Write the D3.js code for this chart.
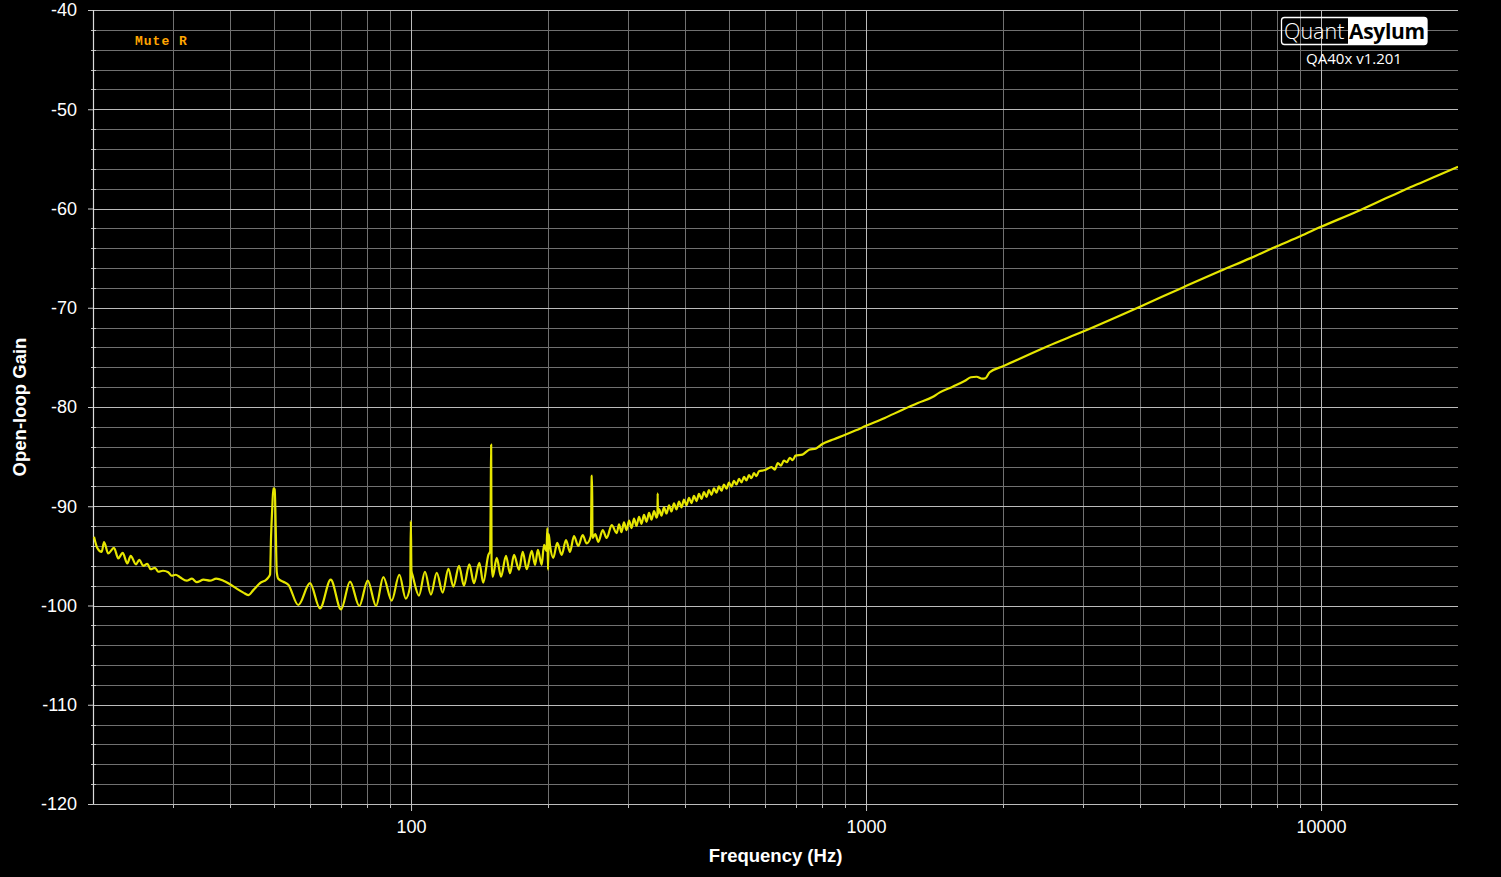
<!DOCTYPE html>
<html>
<head>
<meta charset="utf-8">
<script src="https://cdn.jsdelivr.net/npm/d3@7"></script>
<style>
  html, body { margin: 0; padding: 0; background: #000; }
  svg { display: block; }
</style>
</head>
<body>
<svg id="chart" width="1501" height="877"></svg>
<script>
// ---------------- DATA ----------------
const freqHz = [
  20.1, 20.44, 20.9, 21.15, 21.6, 22.24, 22.73, 23.24, 23.79, 24.2,
  24.86, 25.28, 25.79, 26.32, 26.78, 27.37, 27.83, 28.5, 29.27, 29.78,
  30.4, 31.06, 32.13, 33.0, 33.8, 35.0, 36.15, 37.3, 38.68, 39.67,
  41.39, 42.8, 43.89, 45.02, 46.57, 48.18, 48.99, 49.24, 49.56, 49.81,
  50.17, 50.42, 50.68, 51.09, 52.39, 53.74, 56.52, 59.97, 63.08, 66.6,
  70.17, 73.44, 76.97, 80.32, 83.77, 86.92, 90.69, 94.25, 97.35, 99.6,
  99.9, 100.2, 100.85, 104.1, 107.3, 110.6, 113.9, 117.4, 120.8, 123.9,
  127.5, 130.7, 134.3, 137.5, 141.3, 144.1, 147.9, 149.3, 149.7, 150.0,
  150.3, 151.2, 154.3, 157.7, 161.7, 165.0, 168.4, 172.7, 176.0, 179.6,
  184.2, 187.3, 190.0, 193.7, 196.0, 198.5, 199.3, 200.0, 200.7, 202.0,
  205.4, 209.6, 214.3, 219.1, 223.5, 228.1, 233.1, 238.4, 243.2, 248.5,
  249.5, 250.0, 250.5, 254.0, 258.0, 263.8, 269.2, 276.1, 283.2,
  286.5, 290.1, 293.8, 297.6, 301.4, 305.2, 309.1, 313.0, 317.0, 321.0,
  325.1, 329.3, 333.5, 337.7, 342.0, 346.3, 348.0, 348.4, 348.8, 350.8,
  355.2, 359.7, 364.3, 369.0, 373.6, 378.4, 383.2, 388.1, 393.0, 398.0,
  403.1, 408.2, 413.4, 418.7, 424.0, 429.4, 434.9, 440.4, 446.0, 451.7,
  457.4, 463.3, 469.1, 475.1, 481.2, 487.3, 493.5, 499.8, 506.1, 512.6,
  519.1, 525.7, 532.4, 539.2, 546.0, 553.0, 560.0, 567.1, 574.3, 581.7,
  600, 620, 630, 640, 650, 660, 670, 680, 690, 700,
  725, 750, 775, 800, 850, 900, 950, 1000, 1100, 1200,
  1300, 1400, 1450, 1550, 1650, 1700, 1750, 1800, 1830, 1870,
  2000, 2500, 3000, 4000, 5000, 6000, 7000, 8000, 9000, 10000,
  12000, 14000, 16000, 18000, 20000
];
const gainDb = [
  -93.07, -94.2, -94.6, -93.6, -94.75, -94.2, -95.25, -94.7, -95.75, -95.0,
  -95.85, -95.4, -96.0, -95.8, -96.35, -96.2, -96.6, -96.5, -96.65, -97.0,
  -96.9, -97.15, -97.5, -97.3, -97.65, -97.4, -97.5, -97.3, -97.5, -97.75,
  -98.3, -98.7, -98.95, -98.45, -97.75, -97.35, -96.9, -93.1, -90.05, -88.2,
  -88.3, -92.1, -96.6, -97.3, -97.6, -97.9, -99.95, -97.75, -100.3, -97.4,
  -100.4, -97.6, -100.05, -97.5, -100.05, -97.15, -99.5, -96.9, -99.3, -98.0,
  -91.5, -96.5, -97.0, -99.0, -96.6, -98.9, -96.7, -98.7, -96.3, -98.1,
  -96.0, -98.0, -95.85, -97.75, -95.7, -97.7, -94.9, -94.5, -88.5, -83.8,
  -95.5, -97.1, -95.2, -97.1, -95.0, -96.75, -94.9, -96.4, -94.6, -96.35,
  -94.5, -95.9, -94.4, -95.9, -93.9, -94.5, -92.2, -96.4, -92.8, -93.9,
  -95.2, -93.7, -94.9, -93.4, -94.6, -93.0, -94.0, -92.9, -93.75, -93.0,
  -87.0, -86.9, -93.2, -92.8, -93.6, -92.4, -93.2, -91.9, -92.7,
  -91.82, -92.62, -91.63, -92.41, -91.44, -92.20, -91.25, -91.99, -91.06, -91.78,
  -90.87, -91.57, -90.67, -91.36, -90.48, -91.15, -90.9, -88.7, -90.8, -90.29,
  -90.94, -90.10, -90.73, -89.91, -90.53, -89.72, -90.32, -89.53, -90.11, -89.34,
  -89.90, -89.15, -89.69, -88.96, -89.48, -88.76, -89.27, -88.57, -89.06, -88.38,
  -88.85, -88.19, -88.64, -88.00, -88.44, -87.81, -88.23, -87.62, -88.02, -87.43,
  -87.81, -87.24, -87.60, -87.05, -87.39, -86.86, -87.18, -86.67, -86.97, -86.47,
  -86.35, -86.05, -86.3, -85.65, -85.9, -85.4, -85.55, -85.12, -85.35, -84.9,
  -84.8, -84.3, -84.2, -83.75, -83.25, -82.8, -82.35, -81.9, -81.1, -80.3,
  -79.6, -79.0, -78.55, -77.95, -77.35, -77.0, -76.95, -77.15, -77.1, -76.5,
  -75.9, -73.9, -72.4, -69.9, -67.9, -66.3, -65.0, -63.8, -62.8, -61.85,
  -60.3, -58.9, -57.7, -56.7, -55.8
];

const yMajorTicks = [-40, -50, -60, -70, -80, -90, -100, -110, -120];
const yMinorTicks = [-42, -44, -46, -48, -52, -54, -56, -58, -62, -64, -66, -68,
  -72, -74, -76, -78, -82, -84, -86, -88, -92, -94, -96, -98,
  -102, -104, -106, -108, -112, -114, -116, -118];
const xMajorTicks = [100, 1000, 10000];
const xMinorTicks = [30, 40, 50, 60, 70, 80, 90, 200, 300, 400, 500, 600, 700, 800, 900,
  2000, 3000, 4000, 5000, 6000, 7000, 8000, 9000];
const xTickLabels = ["100", "1000", "10000"];

// ---------------- LAYOUT ----------------
const plot = { left: 93, right: 1458, top: 10, bottom: 804 };
const svg = d3.select("#chart");
svg.append("rect").attr("width", 1501).attr("height", 877).attr("fill", "#000");

const x = d3.scaleLog().domain([20, 20000]).range([plot.left, plot.right]);
const y = d3.scaleLinear().domain([-40, -120]).range([plot.top, plot.bottom]);

const grid = svg.append("g");
grid.selectAll("line.ymin").data(yMinorTicks).join("line")
  .attr("x1", plot.left).attr("x2", plot.right)
  .attr("y1", d => Math.round(y(d)) + 0.5).attr("y2", d => Math.round(y(d)) + 0.5)
  .attr("stroke", "#707070").attr("stroke-width", 1);
grid.selectAll("line.xmin").data(xMinorTicks).join("line")
  .attr("x1", d => Math.round(x(d)) + 0.5).attr("x2", d => Math.round(x(d)) + 0.5)
  .attr("y1", plot.top).attr("y2", plot.bottom)
  .attr("stroke", "#707070").attr("stroke-width", 1);
grid.selectAll("line.ymaj").data(yMajorTicks).join("line")
  .attr("x1", plot.left).attr("x2", plot.right)
  .attr("y1", d => Math.round(y(d)) + 0.5).attr("y2", d => Math.round(y(d)) + 0.5)
  .attr("stroke", "#bcbcbc").attr("stroke-width", 1);
grid.selectAll("line.xmaj").data(xMajorTicks).join("line")
  .attr("x1", d => Math.round(x(d)) + 0.5).attr("x2", d => Math.round(x(d)) + 0.5)
  .attr("y1", plot.top).attr("y2", plot.bottom)
  .attr("stroke", "#bcbcbc").attr("stroke-width", 1);

grid.selectAll("line.ymint").data(yMinorTicks).join("line")
  .attr("x1", plot.left - 2).attr("x2", plot.left + 3)
  .attr("y1", d => Math.round(y(d)) + 0.5).attr("y2", d => Math.round(y(d)) + 0.5)
  .attr("stroke", "#bcbcbc");
grid.selectAll("line.xmint").data(xMinorTicks).join("line")
  .attr("x1", d => Math.round(x(d)) + 0.5).attr("x2", d => Math.round(x(d)) + 0.5)
  .attr("y1", plot.bottom).attr("y2", plot.bottom + 4)
  .attr("stroke", "#bcbcbc");

svg.append("line").attr("x1", plot.left + 0.5).attr("x2", plot.left + 0.5)
  .attr("y1", plot.top).attr("y2", plot.bottom)
  .attr("stroke", "#dcdcdc").attr("stroke-width", 1.2);

const fontSans = "'Liberation Sans', Arial, sans-serif";
const yAxis = d3.axisLeft(y).tickValues(yMajorTicks).tickSize(5).tickPadding(11)
  .tickFormat(d => String(d));
const gy = svg.append("g").attr("transform", `translate(${plot.left},0)`).call(yAxis);
gy.select(".domain").remove();
gy.selectAll(".tick line").attr("stroke", "#c8c8c8");
gy.selectAll(".tick text").attr("fill", "#fff").attr("font-size", 18)
  .attr("font-family", fontSans);

const xAxis = d3.axisBottom(x).tickValues(xMajorTicks).tickSize(7).tickPadding(9)
  .tickFormat((d, i) => xTickLabels[i]);
const gx = svg.append("g").attr("transform", `translate(0,${plot.bottom})`).call(xAxis);
gx.select(".domain").remove();
gx.selectAll(".tick line").attr("stroke", "#c8c8c8");
gx.selectAll(".tick text").attr("fill", "#fff").attr("font-size", 18)
  .attr("font-family", fontSans);

svg.append("text").attr("x", (plot.left + plot.right) / 2).attr("y", 862)
  .attr("text-anchor", "middle").attr("fill", "#fff").attr("font-size", 18.5)
  .attr("font-weight", "bold").attr("font-family", fontSans)
  .text("Frequency (Hz)");
svg.append("text").attr("transform", `translate(26,${(plot.top + plot.bottom) / 2}) rotate(-90)`)
  .attr("text-anchor", "middle").attr("fill", "#fff").attr("font-size", 18.5)
  .attr("font-weight", "bold").attr("font-family", fontSans)
  .text("Open-loop Gain");

svg.append("clipPath").attr("id", "clip").append("rect")
  .attr("x", plot.left).attr("y", plot.top)
  .attr("width", plot.right - plot.left).attr("height", plot.bottom - plot.top);
const line = d3.line().curve(d3.curveMonotoneX)
  .x((d, i) => x(freqHz[i])).y((d, i) => y(gainDb[i]));
svg.append("path").datum(gainDb).attr("d", line).attr("clip-path", "url(#clip)")
  .attr("fill", "none").attr("stroke", "#e6e600").attr("stroke-width", 2.2)
  .attr("stroke-linejoin", "round");

svg.append("text").attr("x", 135).attr("y", 45).attr("fill", "#ffa500")
  .attr("font-family", "'Liberation Mono', 'DejaVu Sans Mono', monospace")
  .attr("font-weight", "bold").attr("font-size", 13).attr("letter-spacing", 1)
  .text("Mute R");

const logo = svg.append("g");
logo.append("path")
  .attr("d", "M1348,17.5 L1424,17.5 Q1427,17.5 1427,20.5 L1427,41.5 Q1427,44.5 1424,44.5 L1348,44.5 Z")
  .attr("fill", "#fff");
logo.append("rect").attr("x", 1281.5).attr("y", 17.5).attr("width", 145.5).attr("height", 27)
  .attr("rx", 3).attr("fill", "none").attr("stroke", "#fff").attr("stroke-width", 1.3);
logo.append("text").attr("x", 1284).attr("y", 39).attr("fill", "#fff")
  .attr("font-family", "'Open Sans', 'Noto Sans', sans-serif").attr("font-weight", 300)
  .attr("font-size", 21.5).text("Quant");
logo.append("text").attr("x", 1349).attr("y", 39).attr("fill", "#000")
  .attr("font-family", "'Open Sans', 'Noto Sans', sans-serif").attr("font-weight", 700)
  .attr("font-size", 21).attr("letter-spacing", -0.3).text("Asylum");
logo.append("text").attr("x", 1354).attr("y", 63.5).attr("fill", "#fff")
  .attr("text-anchor", "middle")
  .attr("font-family", "'Open Sans', 'Noto Sans', sans-serif")
  .attr("font-size", 15).text("QA40x v1.201");
</script>
</body>
</html>
